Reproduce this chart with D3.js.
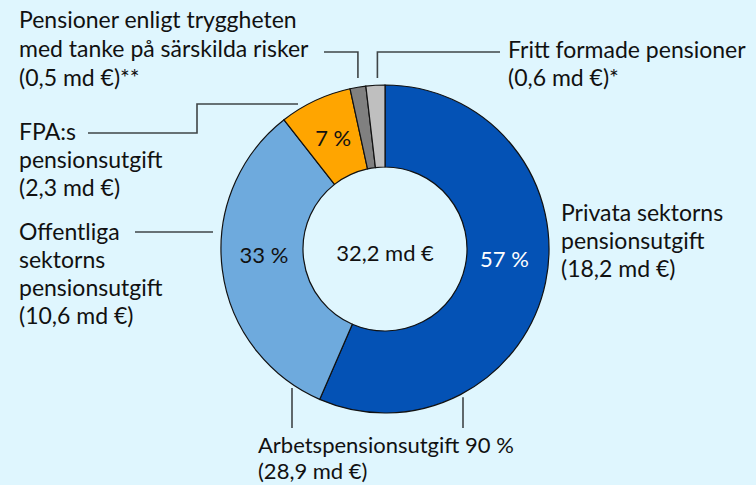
<!DOCTYPE html>
<meta charset="utf-8">
<style>
body { margin: 0; background: #dff6fe; }
svg { display: block; }
text { font-family: Lato, "Open Sans", sans-serif; font-size: 23px; fill: #111; }
text.num { font-size: 22px; }
text.group { font-size: 22px; }
.leader { fill: none; stroke: #3f4547; stroke-width: 1.6px; }
</style>
<svg id="chart" width="756" height="485"></svg>
<script src="https://d3js.org/d3.v7.min.js"></script>
<script>

// pensionsutgift, md €
var categories = ["Privata sektorns pensionsutgift", "Offentliga sektorns pensionsutgift",
                  "FPA:s pensionsutgift", "Pensioner enligt tryggheten", "Fritt formade pensioner"];
var values = [18.2, 10.6, 2.3, 0.5, 0.6];
var pctLabels = ["57 %", "33 %", "7 %", "", ""];
var colors = ["#0452b5", "#6eaadd", "#ffa500", "#808080", "#bfbfbf"];
var totalLabel = "32,2 md €";

var labelLines = [
  ["Privata sektorns", "pensionsutgift", "(18,2 md €)"],
  ["Offentliga", "sektorns", "pensionsutgift", "(10,6 md €)"],
  ["FPA:s", "pensionsutgift", "(2,3 md €)"],
  ["Pensioner enligt tryggheten", "med tanke på särskilda risker", "(0,5 md €)**"],
  ["Fritt formade pensioner", "(0,6 md €)*"]
];
var groupLabel = ["Arbetspensionsutgift 90 %", "(28,9 md €)"];

var svg = d3.select("#chart"),
    width = +svg.attr("width"),
    height = +svg.attr("height");

var cx = 385, cy = 249, outerR = 164, innerR = 82;

var g = svg.append("g").attr("transform", "translate(" + cx + "," + cy + ")");

var pie = d3.pie().sort(null).value(function(d) { return d; });
var arcs = pie(values);

var arc = d3.arc().innerRadius(innerR).outerRadius(outerR);
var labelArc = d3.arc().innerRadius(122).outerRadius(122);

g.selectAll("path.slice")
  .data(arcs)
  .enter().append("path")
    .attr("class", "slice")
    .attr("d", arc)
    .attr("fill", function(d, i) { return colors[i]; })
    .attr("stroke", "#111")
    .attr("stroke-width", 1.2);

g.selectAll("text.pct")
  .data(arcs)
  .enter().append("text")
    .attr("class", "pct num")
    .attr("transform", function(d) {
      var c = labelArc.centroid(d);
      // side labels sit level with the centre text
      var y = Math.abs(c[1]) < 60 ? c[1] * 0.4 : c[1];
      return "translate(" + c[0] + "," + y + ")";
    })
    .attr("text-anchor", "middle")
    .attr("dy", "0.35em")
    .style("fill", function(d, i) { return i === 0 ? "#fff" : "#111"; })
    .text(function(d, i) { return pctLabels[i]; });

g.append("text")
  .attr("class", "num")
  .attr("text-anchor", "middle")
  .attr("dy", "0.35em")
  .attr("y", 4)
  .text(totalLabel);

// label text blocks: [x, first baseline, line height]
var labelPos = [[561, 221, 28], [19, 240, 28], [19, 140, 28], [19, 28, 29], [508, 58, 28]];

labelLines.forEach(function(lines, i) {
  var t = svg.append("text")
    .attr("x", labelPos[i][0])
    .attr("y", labelPos[i][1]);
  lines.forEach(function(s, j) {
    t.append("tspan")
      .attr("x", labelPos[i][0])
      .attr("dy", j === 0 ? 0 : labelPos[i][2])
      .text(s);
  });
});

var gl = svg.append("text").attr("class", "group").attr("x", 258).attr("y", 453);
groupLabel.forEach(function(s, j) {
  gl.append("tspan").attr("x", 258).attr("dy", j === 0 ? 0 : 26).text(s);
});

// leader lines
function midPoint(d, r) {
  var a = (d.startAngle + d.endAngle) / 2;
  return [cx + r * Math.sin(a), cy - r * Math.cos(a)];
}
var line = d3.line();

var p3 = midPoint(arcs[3], outerR);
var p4 = midPoint(arcs[4], outerR);
var topY = cy - outerR - 7;

svg.append("path").attr("class", "leader")
  .attr("d", line([[324, 52], [p3[0], 52], [p3[0], topY]]));
svg.append("path").attr("class", "leader")
  .attr("d", line([[500, 52], [p4[0] + 2, 52], [p4[0] + 2, topY]]));
svg.append("path").attr("class", "leader")
  .attr("d", line([[88, 133], [197, 133], [197, 104], [298, 104]]));
svg.append("path").attr("class", "leader")
  .attr("d", line([[135, 232], [cx - outerR - 8, 232]]));

// bracket ticks under arbetspension slices
[292, 463].forEach(function(x) {
  var dx = x - cx;
  var yRing = cy + Math.sqrt(outerR * outerR - dx * dx);
  svg.append("path").attr("class", "leader")
    .attr("d", line([[x, yRing + 4], [x, 428]]));
});

</script>
